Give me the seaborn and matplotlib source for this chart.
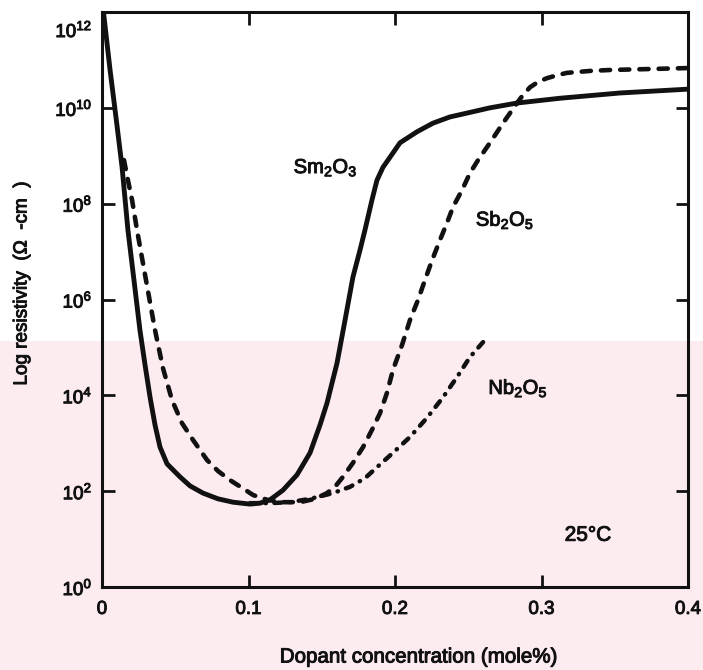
import numpy as np
import pandas as pd
import matplotlib
matplotlib.use("Agg")
import matplotlib.pyplot as plt
import matplotlib.patheffects as pe
from matplotlib.transforms import ScaledTranslation
import seaborn as sns

# Dopant concentration (mole%) and log10 of resistivity (ohm-cm) for each dopant
sm2o3_x = [0.001, 0.0055, 0.0102, 0.0137, 0.0177, 0.0218, 0.0259, 0.0294, 0.0328,
           0.0362, 0.0396, 0.0444, 0.0532, 0.0601, 0.0689, 0.0792, 0.0894, 0.1010,
           0.1078, 0.1147, 0.1235, 0.1331, 0.1420, 0.1488, 0.1536, 0.1604, 0.1659,
           0.1713, 0.1761, 0.1795, 0.1843, 0.1877, 0.1918, 0.1966, 0.2034, 0.2150,
           0.2259, 0.2375, 0.2491, 0.2648, 0.2833, 0.3126, 0.3536, 0.4]
sm2o3_log = [12.0, 10.79, 9.64, 8.76, 7.45, 6.41, 5.36, 4.63, 3.96,
             3.38, 2.92, 2.57, 2.30, 2.11, 1.96, 1.84, 1.77, 1.73,
             1.75, 1.82, 2.02, 2.34, 2.80, 3.38, 3.84, 4.67, 5.57,
             6.47, 7.03, 7.45, 8.08, 8.49, 8.76, 8.97, 9.27, 9.50,
             9.68, 9.81, 9.89, 10.00, 10.10, 10.20, 10.31, 10.39]

sb2o5_x = [0.0150, 0.0177, 0.0205, 0.0239, 0.0300, 0.0362, 0.0416, 0.0478, 0.0546,
           0.0621, 0.0717, 0.0792, 0.0874, 0.0956, 0.1031, 0.1126, 0.1235, 0.1352,
           0.1454, 0.1536, 0.1590, 0.1645, 0.1713, 0.1782, 0.1843, 0.1898, 0.1945,
           0.1986, 0.2048, 0.2102, 0.2157, 0.2205, 0.2253, 0.2307, 0.2355, 0.2396,
           0.2457, 0.2512, 0.2567, 0.2628, 0.2683, 0.2737, 0.2785, 0.2833, 0.2874,
           0.2922, 0.2976, 0.3038, 0.3106, 0.3174, 0.3331, 0.3468, 0.3741, 0.4]
sb2o5_log = [8.91, 8.49, 8.08, 7.45, 6.41, 5.36, 4.57, 3.90, 3.42,
             3.07, 2.65, 2.42, 2.23, 2.07, 1.92, 1.82, 1.77, 1.77,
             1.84, 1.96, 2.09, 2.30, 2.59, 2.92, 3.28, 3.63, 4.05,
             4.53, 5.05, 5.57, 5.99, 6.41, 6.82, 7.24, 7.60, 7.93,
             8.28, 8.64, 8.91, 9.18, 9.43, 9.68, 9.89, 10.10, 10.27,
             10.43, 10.54, 10.62, 10.68, 10.73, 10.77, 10.79, 10.81, 10.83]

nb2o5_x = [0.1010, 0.1147, 0.1283, 0.1420, 0.1577, 0.1693, 0.1795, 0.1877, 0.1986,
           0.2102, 0.2218, 0.2328, 0.2423, 0.2512, 0.2601]
nb2o5_log = [1.75, 1.75, 1.77, 1.84, 1.96, 2.09, 2.27, 2.50, 2.80,
             3.13, 3.53, 3.96, 4.38, 4.80, 5.11]

y_tick_exp = [0, 2, 4, 6, 8, 10, 12]
x_ticks = [0, 0.1, 0.2, 0.3, 0.4]
x_tick_labels = ["0", "0.1", "0.2", "0.3", "0.4"]

sns.set_theme(style="ticks")
plt.rcParams["font.family"] = ["Liberation Sans", "DejaVu Sans"]
plt.rcParams["mathtext.fontset"] = "custom"
plt.rcParams["mathtext.rm"] = "Liberation Sans"
plt.rcParams["mathtext.it"] = "Liberation Sans"
plt.rcParams["mathtext.bf"] = "Liberation Sans:bold"

INK = "#111111"
heavy = [pe.withStroke(linewidth=0.7, foreground=INK)]

W, H = 703, 670
fig = plt.figure(figsize=(W / 100, H / 100), dpi=100)
fig.patch.set_facecolor("white")

# pale pink band across the lower part of the page
pink = "#fcebef"
band_top = 1 - 341 / H
fig.patches.append(plt.Rectangle((0, 0), 1, band_top, transform=fig.transFigure,
                                 facecolor=pink, edgecolor="none", zorder=-5))

ax = fig.add_axes([102 / W, 1 - 587 / H, (688 - 102) / W, (587 - 12) / H])
ax.set_facecolor("none")
ax.set_zorder(2)

frames = []
for name, xs, ls in [("Sm2O3", sm2o3_x, sm2o3_log),
                     ("Sb2O5", sb2o5_x, sb2o5_log),
                     ("Nb2O5", nb2o5_x, nb2o5_log)]:
    frames.append(pd.DataFrame({"dopant": name, "conc": xs,
                                "rho": np.power(10.0, ls)}))
df = pd.concat(frames, ignore_index=True)

styles = {"Sm2O3": dict(linestyle="-", lw=3.5),
          "Sb2O5": dict(linestyle=(0, (2.0, 2.2)), lw=3.3),
          "Nb2O5": dict(linestyle=(0, (1.6, 1.9, 0.1, 1.9)), lw=3.2)}
for name, st in styles.items():
    sub = df[df["dopant"] == name]
    sns.lineplot(data=sub, x="conc", y="rho", ax=ax, color=INK,
                 sort=False, estimator=None, solid_capstyle="round",
                 solid_joinstyle="round", dash_capstyle="round",
                 dash_joinstyle="round", **st)

ax.set_yscale("log")
ax.set_xlim(0, 0.4)
ax.set_ylim(1, 1e12)
ax.set_yticks([10.0 ** e for e in y_tick_exp])
ax.set_yticklabels([r"$10^{%d}$" % e for e in y_tick_exp])
ax.minorticks_off()
ax.set_xticks(x_ticks)
ax.set_xticklabels(x_tick_labels)
ax.set_xlabel("")
ax.set_ylabel("")

for sp in ax.spines.values():
    sp.set_visible(True)
    sp.set_linewidth(2.2)
    sp.set_color(INK)
ax.tick_params(axis="both", direction="in", length=9, width=2, color=INK,
               top=True, right=True, labelsize=13.5, labelcolor=INK)
ax.tick_params(axis="x", pad=10)
ax.tick_params(axis="y", pad=7)
for lab in ax.get_xticklabels() + ax.get_yticklabels():
    lab.set_path_effects(heavy)
# the top decade label sits a little below the corner
top_lab = ax.get_yticklabels()[-1]
top_lab.set_transform(top_lab.get_transform()
                      + ScaledTranslation(0, -0.17, fig.dpi_scale_trans))

txt = dict(color=INK, fontsize=14.5, path_effects=heavy)
ax.text(0.1526, 10 ** 8.75, r"Sm$_2$O$_3$", ha="center", va="center", **txt)
ax.text(0.2751, 10 ** 7.66, r"Sb$_2$O$_5$", ha="center", va="center", **txt)
ax.text(0.2840, 10 ** 4.15, r"Nb$_2$O$_5$", ha="center", va="center", **txt)
ax.text(0.3317, 10 ** 1.08, "25°C", ha="center", va="center", color=INK,
        fontsize=15, path_effects=heavy)

fig.text(418 / W, 1 - 657 / H, "Dopant concentration (mole%)", ha="center",
         va="center", fontsize=14.8, color=INK, path_effects=heavy)
fig.text(22 / W, 1 - 284 / H, "Log resistivity  (Ω  -cm  )", ha="center",
         va="center", rotation=90, fontsize=13.6, color=INK, path_effects=heavy)

fig.savefig("out.png", dpi=100)
